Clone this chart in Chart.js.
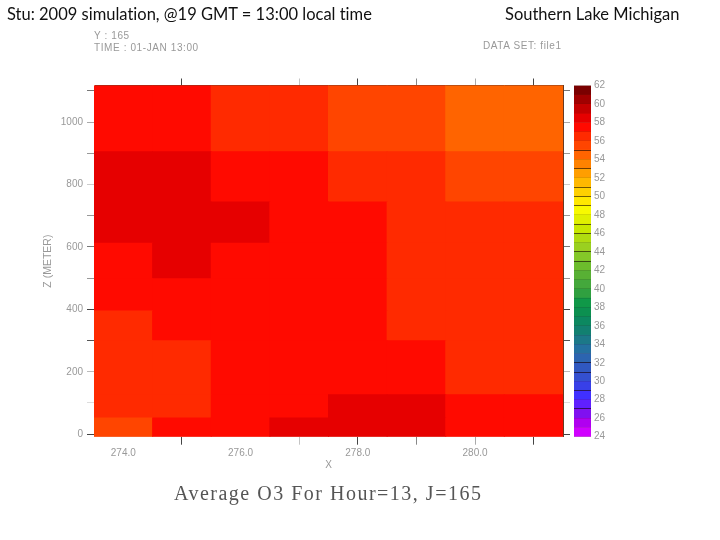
<!DOCTYPE html>
<html><head><meta charset="utf-8">
<script src="https://cdn.jsdelivr.net/npm/chart.js@4/dist/chart.umd.min.js"></script>
<style>
html,body{margin:0;padding:0;background:#fff;width:720px;height:540px;overflow:hidden}
canvas{position:absolute;left:0;top:0}
.t{position:absolute;white-space:pre;line-height:1}
.h{font:16.5px Lato,sans-serif;color:#111;font-variant-ligatures:none}
.s{font:10px "Liberation Sans",sans-serif;color:#999;letter-spacing:.6px}
#main{font:20px "Liberation Serif",serif;color:#555;letter-spacing:1.5px}
</style></head><body>
<canvas id="heat" width="720" height="540"></canvas>
<canvas id="bar" width="720" height="540"></canvas>
<div class="t h" style="left:7px;top:4px">Stu: 2009 simulation, @19 GMT = 13:00 local time</div>
<div class="t h" style="left:505px;top:4px">Southern Lake Michigan</div>
<div class="t s" style="left:94px;top:30px">Y : 165</div>
<div class="t s" style="left:94px;top:42px">TIME : 01-JAN 13:00</div>
<div class="t s" style="left:483px;top:40px">DATA SET: file1</div>
<div class="t" id="main" style="left:174px;top:482px">Average O3 For Hour=13, J=165</div>
<script>
const xCategories = ['274.0','275.0','276.0','277.0','278.0','279.0','280.0','281.0'];
const xShownLabels = ['274.0','276.0','278.0','280.0'];
const xTickShades = ['#ffffff','#444444','#ffffff','#c4c4c4','#444444','#888888','#aaaaaa','#444444'];
const zTicks = [0,100,200,300,400,500,600,700,800,900,1000,1100];
const zShownLabels = [0,200,400,600,800,1000];
const zTickShades = ['#444444','#dddddd','#bbbbbb','#555555','#444444','#999999','#777777','#999999','#cccccc','#999999','#aaaaaa','#777777'];
const zEdges = [-8,52,126,299,395,498,612,744,905,1117];
const row0 = [55.5,57.5,57.5,58.5,58.5,58.5,57.5,57.5];
const row1 = [56.5,56.5,57.5,57.5,58.5,58.5,57.5,57.5];
const row2 = [56.5,56.5,57.5,57.5,57.5,57.5,56.5,56.5];
const row3 = [56.5,57.5,57.5,57.5,57.5,56.5,56.5,56.5];
const row4 = [57.5,57.5,57.5,57.5,57.5,56.5,56.5,56.5];
const row5 = [57.5,58.5,57.5,57.5,57.5,56.5,56.5,56.5];
const row6 = [58.5,58.5,58.5,57.5,57.5,56.5,56.5,56.5];
const row7 = [58.5,58.5,57.5,57.5,56.5,56.5,55.5,55.5];
const row8 = [57.5,57.5,56.5,56.5,55.5,55.5,54.5,54.5];
const rows = [row0,row1,row2,row3,row4,row5,row6,row7,row8];
const levelMin = 24, levelMax = 62;
const levelColors = ['#d000ff','#b000f0','#8010f0','#6020ff','#4030ff','#3840e8','#3450d0','#3058c0','#2c64b0','#2470a0','#1c7888','#128070','#0c8860','#0c9050','#109848','#30a040','#44a83c','#58b034','#6cbc2c','#84c828','#9ad020','#b0dc10','#c8e800','#e0f000','#f8fa00','#ffe800','#ffd000','#ffb800','#ff9e00','#ff8200','#ff6400','#ff4500','#ff2a00','#ff0a00','#e60000','#c40000','#a00000','#7a0000'];
const darkLevelLines = [55,53,51,50,49,47,46,44,43,32,31,29,27];
const barLabels = [24,26,28,30,32,34,36,38,40,42,44,46,48,50,52,54,56,58,60,62];

const colorOf = v => levelColors[Math.floor(v) - levelMin];
const tickFont = {family:'"Liberation Sans",sans-serif', size:10};
const tickGrey = '#999999';
const fixW = w => s => { s.width = w; };
const fixH = h => s => { s.height = h; };
const manualTicks = vals => s => { s.ticks = vals.map(v => ({value:v})); };

new Chart(document.getElementById('heat'), {
  type:'bar',
  data:{
    labels:xCategories,
    datasets:rows.map((r,i)=>({
      data:r.map(()=>[zEdges[i],zEdges[i+1]]),
      backgroundColor:r.map(colorOf),
      borderWidth:0, inflateAmount:0.5,
      barPercentage:1, categoryPercentage:1
    }))
  },
  options:{
    responsive:false, animation:false, devicePixelRatio:1,
    grouped:false,
    layout:{padding:{top:78.5,left:0,right:150,bottom:63.3}},
    plugins:{legend:{display:false},tooltip:{enabled:false}},
    scales:{
      x:{
        type:'category', position:'bottom', afterFit:fixH(40),
        grid:{offset:false,drawOnChartArea:false,tickLength:8,tickColor:c=>xTickShades[c.index],
              color:c=>xTickShades[c.index]},
        border:{color:'#e8b49a'},
        ticks:{font:tickFont,color:tickGrey,padding:3,autoSkip:false,maxRotation:0,
               callback:function(v){const l=this.getLabelForValue(v);return xShownLabels.includes(l)?l:'';}},
        title:{display:true,text:'X',font:tickFont,color:tickGrey,padding:{top:0,bottom:5}}
      },
      x2:{
        type:'category', position:'top', afterFit:fixH(7),
        grid:{offset:false,drawOnChartArea:false,tickLength:7,tickColor:c=>xTickShades[c.index],
              color:c=>xTickShades[c.index]},
        border:{color:'#7a3a20'},
        ticks:{display:false}
      },
      y:{
        type:'linear', position:'left', min:zEdges[0], max:zEdges[zEdges.length-1],
        afterFit:fixW(94), afterBuildTicks:manualTicks(zTicks),
        grid:{drawOnChartArea:false,tickLength:7,tickColor:c=>zTickShades[c.index],
              color:c=>zTickShades[c.index]},
        border:{color:'#e8b49a'},
        ticks:{font:tickFont,color:tickGrey,padding:4,autoSkip:false,
               callback:v=>zShownLabels.includes(v)?String(v):''},
        title:{display:true,text:'Z (METER)',font:{family:tickFont.family,size:10.5},color:tickGrey,padding:{top:42,bottom:0}}
      },
      y2:{
        type:'linear', position:'right', min:zEdges[0], max:zEdges[zEdges.length-1],
        afterFit:fixW(7), afterBuildTicks:manualTicks(zTicks),
        grid:{drawOnChartArea:false,tickLength:7,tickColor:c=>zTickShades[c.index],
              color:c=>zTickShades[c.index]},
        border:{color:'#6a3a20'},
        ticks:{display:false}
      }
    }
  }
});

new Chart(document.getElementById('bar'), {
  type:'bar',
  data:{
    labels:['O3'],
    datasets:levelColors.map((c,i)=>({
      data:[[levelMin+i,levelMin+i+1]],
      backgroundColor:c, borderWidth:0,
      barPercentage:1, categoryPercentage:1
    }))
  },
  options:{
    responsive:false, animation:false, devicePixelRatio:1,
    grouped:false,
    layout:{padding:{top:85.5,left:574,right:100,bottom:103.3}},
    plugins:{legend:{display:false},tooltip:{enabled:false}},
    scales:{
      x:{display:false},
      y:{
        type:'linear', position:'right', min:levelMin, max:levelMax,
        afterFit:fixW(29), afterBuildTicks:s=>{s.ticks=levelColors.map((c,i)=>({value:levelMin+i})).concat([{value:levelMax}]);},
        grid:{z:1,drawTicks:false,
              color:c=>{const v=c.tick?c.tick.value:0;return darkLevelLines.includes(v)?'rgba(20,0,0,.6)':'rgba(40,20,0,.12)';}},
        border:{display:false},
        ticks:{font:tickFont,color:tickGrey,padding:3,autoSkip:false,
               callback:v=>barLabels.includes(v)?String(v):''}
      }
    }
  }
});
</script>
</body></html>
